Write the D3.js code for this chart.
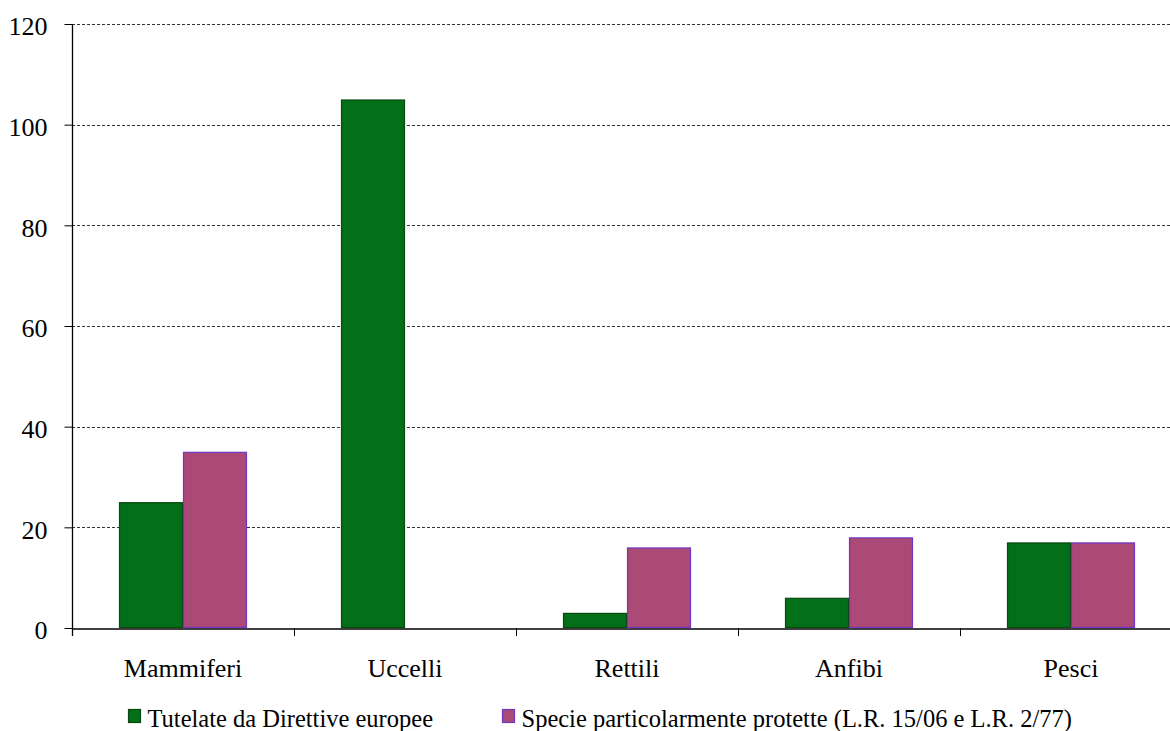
<!DOCTYPE html>
<html>
<head>
<meta charset="utf-8">
<script src="https://cdn.jsdelivr.net/npm/d3@7"></script>
<style>
  html, body { margin: 0; padding: 0; background: #fff; }
  svg { display: block; }
  svg text { font-family: "Times New Roman", "Liberation Serif", serif; fill: #000; }
</style>
</head>
<body>
<svg id="chart" width="1170" height="731"></svg>
<script>
// Numero di specie tutelate per gruppo
const categories = ["Mammiferi", "Uccelli", "Rettili", "Anfibi", "Pesci"];
const seriesNames = ["Tutelate da Direttive europee", "Specie particolarmente protette (L.R. 15/06 e L.R. 2/77)"];
const direttive = [25, 105, 3, 6, 17];
const protette = [35, 0, 16, 18, 17];
const yTicks = [0, 20, 40, 60, 80, 100, 120];

const fills = ["#036f18", "#ab4a77"];
const strokes = ["#0a4a12", "#6f35c4"];
const serif = '"Times New Roman", "Liberation Serif", serif';

const svg = d3.select("#chart");
const margin = { left: 72, top: 24, bottom: 628 };
const plotRight = 72 + 5 * 222;

const x = d3.scaleBand().domain(categories).range([margin.left, plotRight]).paddingInner(0).paddingOuter(0);
const xs = d3.scaleBand().domain([0, 1]).range([47, 222 - 47]);
const y = d3.scaleLinear().domain([0, 120]).range([margin.bottom, margin.top]);

// Griglia orizzontale tratteggiata
svg.append("g")
  .selectAll("line")
  .data(yTicks.filter(d => d > 0))
  .join("line")
  .attr("x1", margin.left).attr("x2", plotRight)
  .attr("y1", d => Math.round(y(d)) + 0.5).attr("y2", d => Math.round(y(d)) + 0.5)
  .attr("stroke", "#333").attr("stroke-width", 1)
  .attr("stroke-dasharray", "3,2");

// Barre
const rows = categories.map((c, i) => ({ c, v: [direttive[i], protette[i]] }));
const g = svg.append("g");
rows.forEach(r => {
  r.v.forEach((v, s) => {
    if (v <= 0) return;
    g.append("rect")
      .attr("x", x(r.c) + xs(s) + 0.5)
      .attr("y", y(v) + 0.5)
      .attr("width", xs.bandwidth() - 1)
      .attr("height", y(0) - y(v) - 1)
      .attr("fill", fills[s])
      .attr("stroke", strokes[s])
      .attr("stroke-width", 1.2);
  });
});

// Asse Y
const yAxis = d3.axisLeft(y).tickValues(yTicks).tickSize(8).tickPadding(17).tickFormat(d3.format("d"));
const gy = svg.append("g").attr("transform", `translate(${margin.left + 0.5},0)`).call(yAxis)
  .attr("font-family", serif).attr("font-size", 26);
gy.select(".domain").remove();
gy.selectAll(".tick line").attr("stroke", "#000");
gy.selectAll(".tick text").attr("dy", "0.42em").style("font-size", "26px").style("font-family", serif);
gy.append("line")
  .attr("x1", 0).attr("x2", 0)
  .attr("y1", margin.top).attr("y2", margin.bottom + 8)
  .attr("stroke", "#000").attr("stroke-width", 1.3);

// Asse X
const xAxis = d3.axisBottom(x).tickSize(0).tickPadding(30);
const gx = svg.append("g").attr("transform", `translate(0,${margin.bottom + 0.5})`).call(xAxis)
  .attr("font-family", serif).attr("font-size", 26);
gx.select(".domain").attr("stroke", "#000").attr("stroke-width", 1.3);
gx.selectAll(".tick text").style("font-size", "26px").style("font-family", serif);
// Tacche di separazione tra le categorie
svg.append("g")
  .selectAll("line")
  .data(categories.slice(1))
  .join("line")
  .attr("x1", d => x(d) + 0.5).attr("x2", d => x(d) + 0.5)
  .attr("y1", margin.bottom).attr("y2", margin.bottom + 8)
  .attr("stroke", "#000").attr("stroke-width", 1);

// Legenda
const legendX = [128, 502];
const leg = svg.append("g").attr("font-family", serif);
seriesNames.forEach((name, s) => {
  leg.append("rect")
    .attr("x", legendX[s] + 0.5).attr("y", 709.5)
    .attr("width", 12).attr("height", 13)
    .attr("fill", fills[s]).attr("stroke", strokes[s]).attr("stroke-width", 1.2);
  leg.append("text")
    .attr("x", legendX[s] + 19.5).attr("y", 727)
    .style("font-size", "24.5px").style("font-family", serif)
    .text(name);
});
</script>
</body>
</html>
